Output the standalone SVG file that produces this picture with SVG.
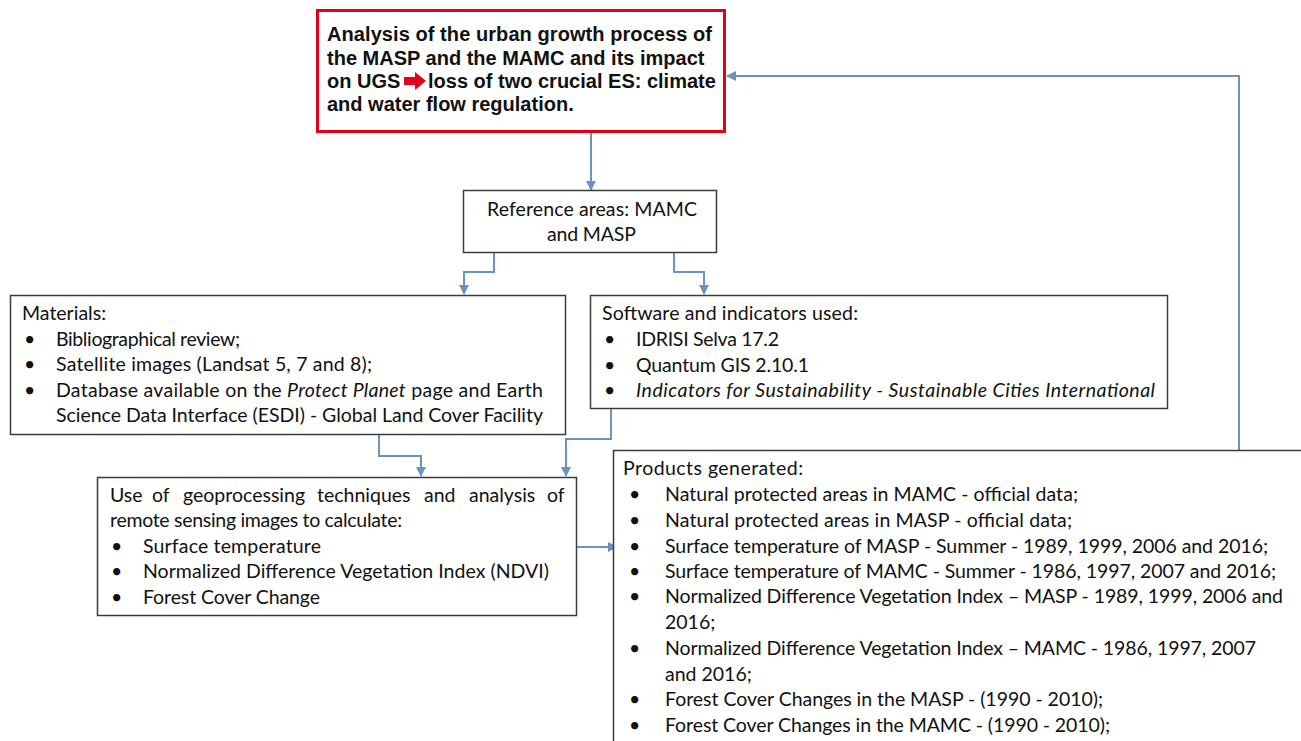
<svg xmlns="http://www.w3.org/2000/svg" width="1301" height="741" viewBox="0 0 1301 741">
<style>
.box{fill:#fff;stroke:#3c3c3c;stroke-width:1.5}
.t{font-family:Lato,"Liberation Sans",sans-serif;font-size:19.5px;fill:#111}
.b{font-family:"Liberation Sans",Arial,sans-serif;font-size:20px;font-weight:bold;fill:#111}
.c{fill:none;stroke:#6a93c4;stroke-width:2}
</style>
<defs>
<marker id="ah" markerUnits="userSpaceOnUse" markerWidth="10" markerHeight="10" refX="9" refY="5" orient="auto">
<path d="M0,0 L10,5 L0,10 z" fill="#6a93c4"/>
</marker>
</defs>
<rect width="1301" height="741" fill="#fff"/>
<g id="connectors">
<path class="c" d="M591,132 V190" marker-end="url(#ah)"/>
<path class="c" d="M494,253 V272 H464 V294" marker-end="url(#ah)"/>
<path class="c" d="M674,253 V272 H704 V294" marker-end="url(#ah)"/>
<path class="c" d="M379,435 V456 H421 V476" marker-end="url(#ah)"/>
<path class="c" d="M611,409 V439 H566 V476" marker-end="url(#ah)"/>
<path class="c" d="M577,547 H617" marker-end="url(#ah)"/>
<path class="c" d="M1239,450 V76 H727" marker-end="url(#ah)"/>
</g>
<g id="node-top">
<rect x="317.5" y="10.5" width="407" height="121" fill="#fff" stroke="#e2001a" stroke-width="3"/>
<text class="b" x="327" y="41" textLength="385">Analysis of the urban growth process of</text>
<text class="b" x="327" y="64.5">the MASP and the MAMC and its impact</text>
<text class="b" x="327" y="88">on UGS</text>
<path d="M404,77 H415 V72 L426,81 L415,90 V85 H404 z" fill="#e2001a"/>
<text class="b" x="428" y="88">loss of two crucial ES: climate</text>
<text class="b" x="327" y="111">and water flow regulation.</text>
</g>
<g id="node-ref">
<rect class="box" x="463.5" y="190.5" width="253" height="62"/>
<text class="t" x="487" y="216" textLength="210">Reference areas: MAMC</text>
<text class="t" x="547" y="241" textLength="89">and MASP</text>
</g>
<g id="node-materials">
<rect class="box" x="10.5" y="295.5" width="555" height="139"/>
<text class="t" x="22" y="320">Materials:</text>
<text class="t" x="24" y="346">•</text><text class="t" x="56" y="346" textLength="184">Bibliographical review;</text>
<text class="t" x="24" y="371">•</text><text class="t" x="56" y="371" textLength="316">Satellite images (Landsat 5, 7 and 8);</text>
<text class="t" x="24" y="397">•</text><text class="t" x="56" y="397" textLength="487">Database available on the <tspan font-style="italic">Protect Planet</tspan> page and Earth</text>
<text class="t" x="56" y="422" textLength="487">Science Data Interface (ESDI) - Global Land Cover Facility</text>
</g>
<g id="node-software">
<rect class="box" x="590.5" y="295.5" width="577" height="113"/>
<text class="t" x="602" y="320" textLength="256">Software and indicators used:</text>
<text class="t" x="604" y="346">•</text><text class="t" x="636" y="346" textLength="143">IDRISI Selva 17.2</text>
<text class="t" x="604" y="372">•</text><text class="t" x="636" y="372" textLength="173">Quantum GIS 2.10.1</text>
<text class="t" x="604" y="397">•</text><text class="t" x="636" y="397" font-style="italic" textLength="519">Indicators for Sustainability - Sustainable Cities International</text>
</g>
<g id="node-use">
<rect class="box" x="97.5" y="477.5" width="479" height="138"/>
<text class="t" y="502"><tspan x="110">Use</tspan><tspan x="152">of</tspan><tspan x="183">geoprocessing</tspan><tspan x="317">techniques</tspan><tspan x="424">and</tspan><tspan x="469">analysis</tspan><tspan x="547">of</tspan></text>
<text class="t" x="110" y="527" textLength="292">remote sensing images to calculate:</text>
<text class="t" x="111" y="553">•</text><text class="t" x="143" y="553" textLength="178">Surface temperature</text>
<text class="t" x="111" y="578">•</text><text class="t" x="143" y="578" textLength="406">Normalized Difference Vegetation Index (NDVI)</text>
<text class="t" x="111" y="604">•</text><text class="t" x="143" y="604" textLength="177">Forest Cover Change</text>
</g>
<g id="node-products">
<rect class="box" x="613.5" y="450.5" width="700" height="300"/>
<text class="t" x="623" y="475" textLength="180">Products generated:</text>
<text class="t" x="629" y="501">•</text><text class="t" x="665" y="501" textLength="413">Natural protected areas in MAMC - official data;</text>
<text class="t" x="629" y="526.5">•</text><text class="t" x="665" y="526.5" textLength="407">Natural protected areas in MASP - official data;</text>
<text class="t" x="629" y="552.5">•</text><text class="t" x="665" y="552.5" textLength="603">Surface temperature of MASP - Summer - 1989, 1999, 2006 and 2016;</text>
<text class="t" x="629" y="578">•</text><text class="t" x="665" y="578" textLength="611">Surface temperature of MAMC - Summer - 1986, 1997, 2007 and 2016;</text>
<text class="t" x="629" y="603">•</text><text class="t" x="665" y="603" textLength="618">Normalized Difference Vegetation Index – MASP - 1989, 1999, 2006 and</text>
<text class="t" x="665" y="629">2016;</text>
<text class="t" x="629" y="655">•</text><text class="t" x="665" y="655" textLength="591">Normalized Difference Vegetation Index – MAMC - 1986, 1997, 2007</text>
<text class="t" x="665" y="680.5">and 2016;</text>
<text class="t" x="629" y="706">•</text><text class="t" x="665" y="706" textLength="438">Forest Cover Changes in the MASP - (1990 - 2010);</text>
<text class="t" x="629" y="732">•</text><text class="t" x="665" y="732" textLength="445">Forest Cover Changes in the MAMC - (1990 - 2010);</text>
</g>
</svg>
